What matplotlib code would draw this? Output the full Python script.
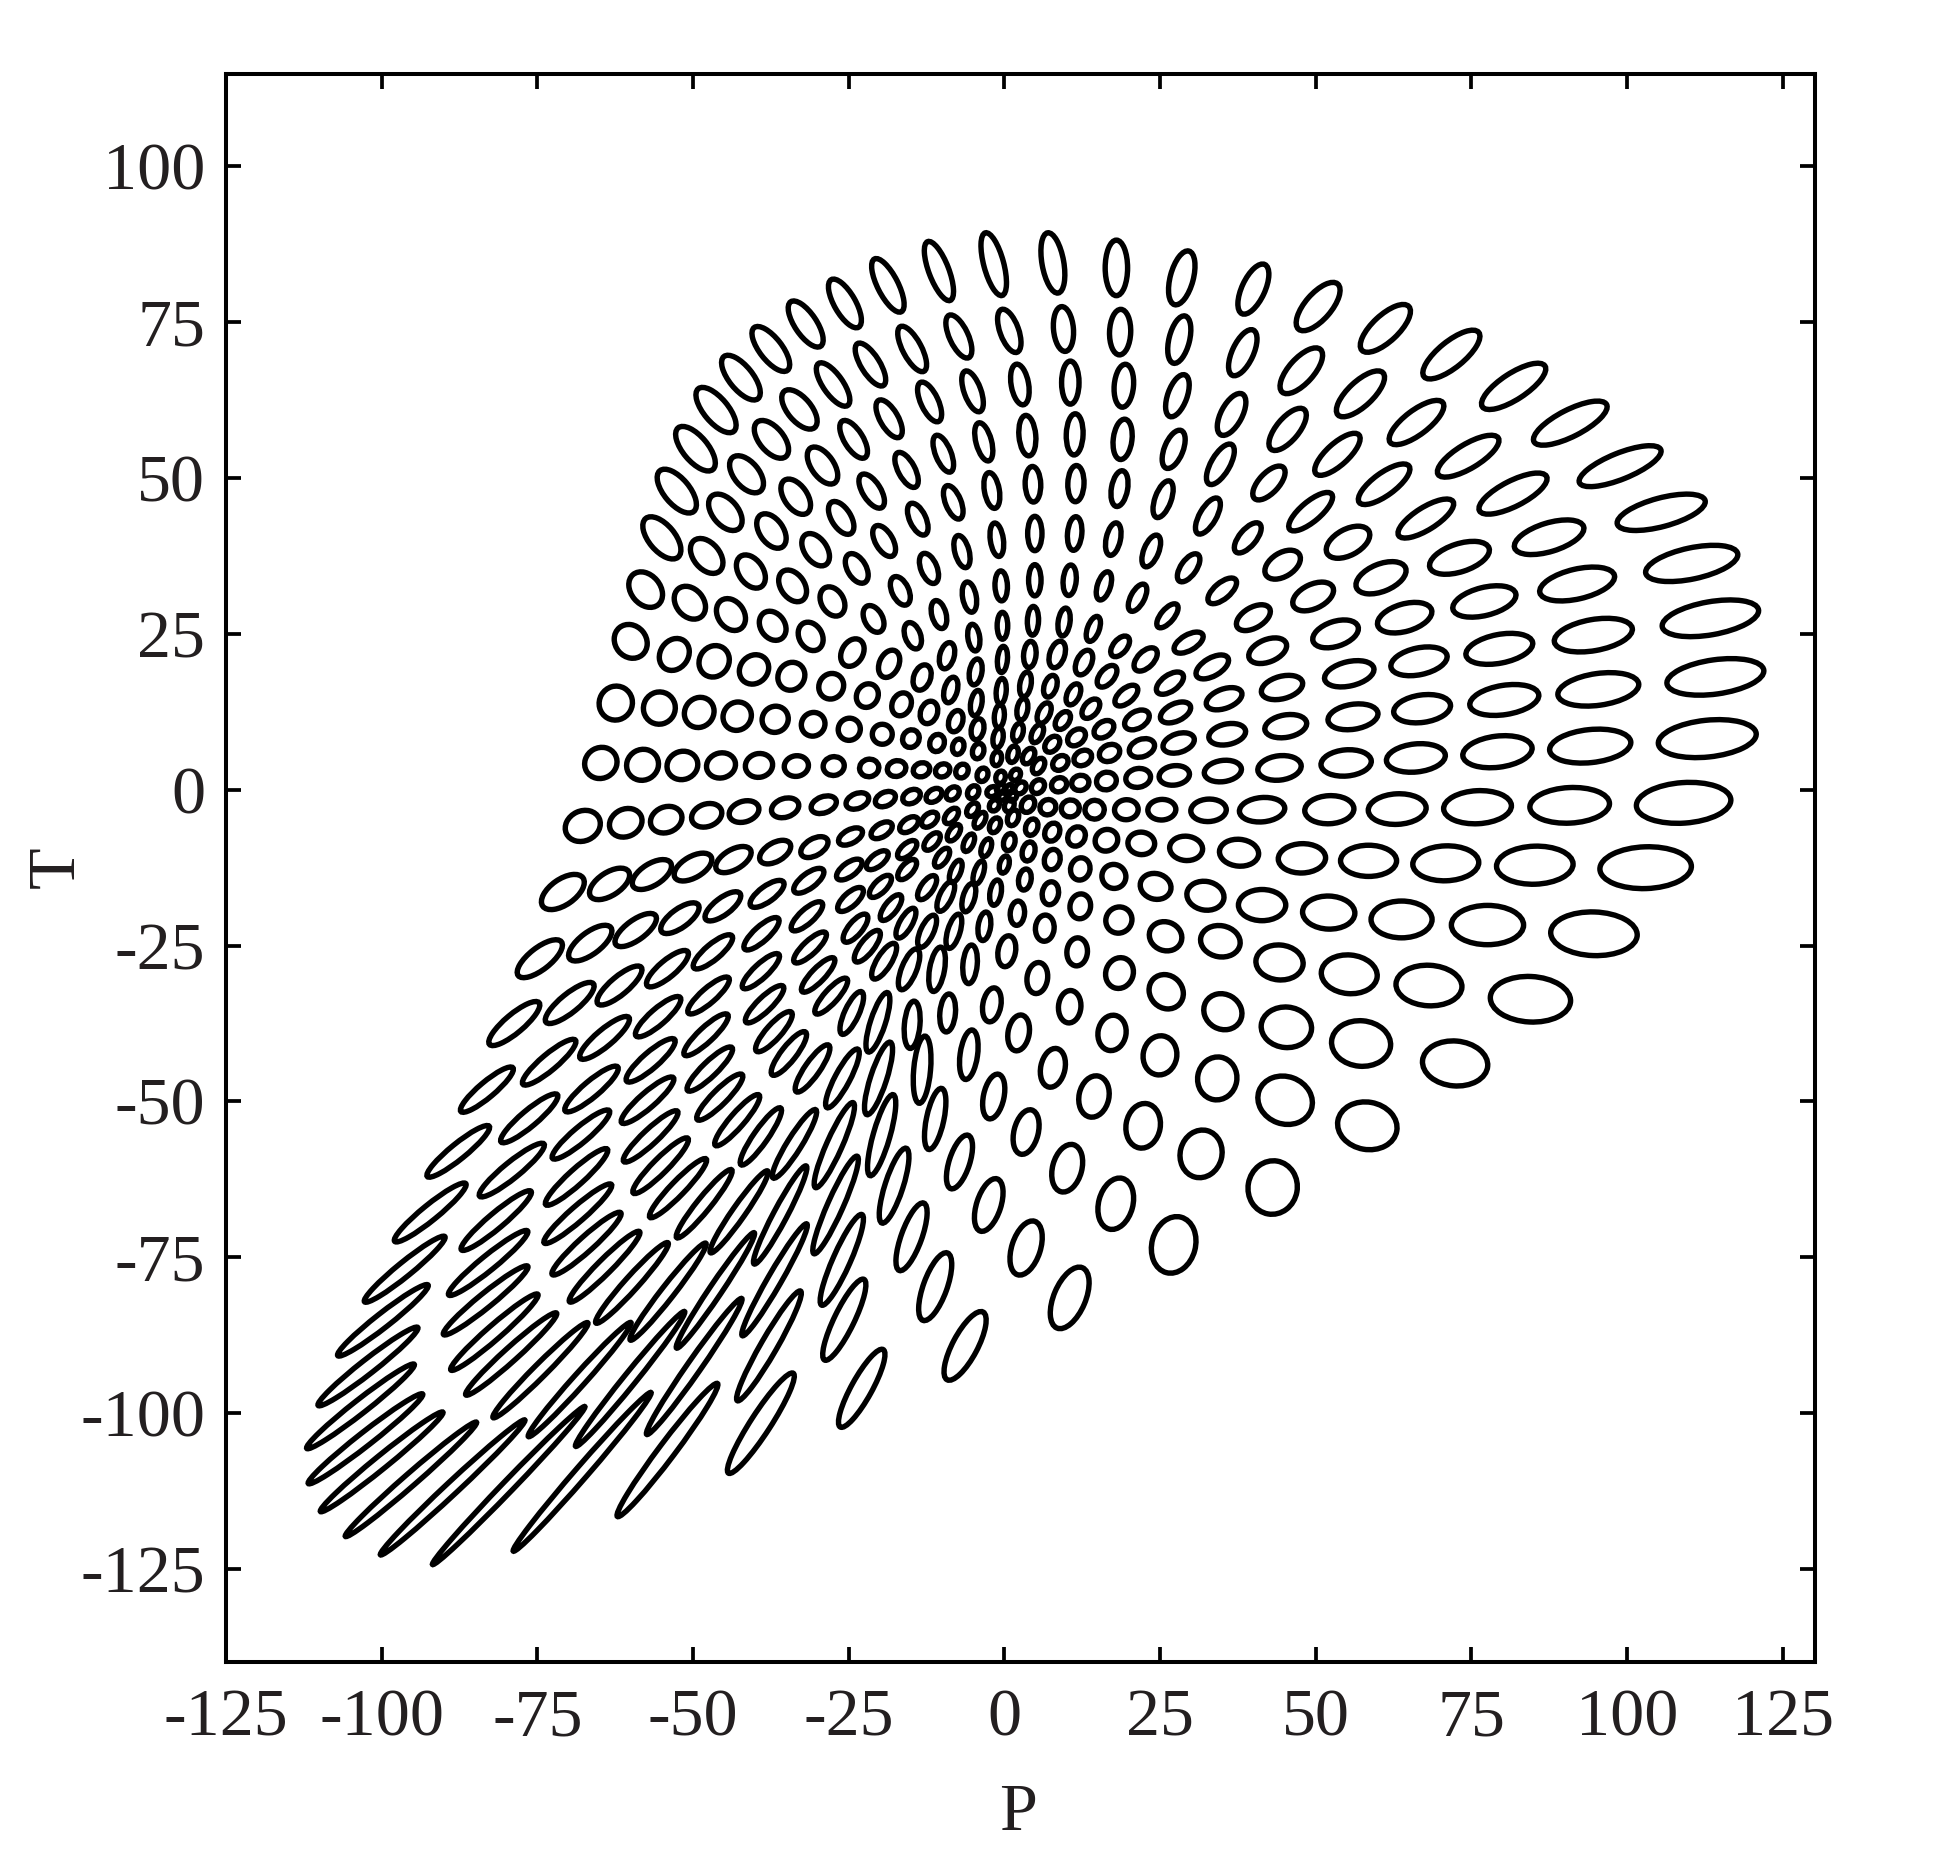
import matplotlib
matplotlib.use("Agg")
import matplotlib.pyplot as plt
from matplotlib.patches import Ellipse

# Each row: P centre, T centre, long axis, short axis, tilt of long axis (degrees)
outer_lower_left = [
(-83.1,-48.1,10.9,2.5,40),(-87.7,-58.0,12.8,2.5,39),(-92.2,-67.8,14.7,2.5,39),(-96.3,-76.9,16.6,2.3,39),
(-99.8,-85.1,18.4,2.3,38),(-102.2,-92.5,20.3,2.3,38),(-103.4,-98.9,21.9,2.2,38),(-102.6,-104.1,23.3,2.2,38),
(-100.0,-107.8,25.3,2.1,39),(-95.3,-110.6,27.9,2.0,41),(-88.6,-111.9,31.7,2.0,43),(-79.6,-111.6,35.2,1.8,46),
(-67.8,-109.4,33.7,2.0,49),(-54.1,-105.9,26.7,2.6,53),(-39.1,-101.6,19.1,3.2,57),(-22.9,-96.0,14.2,3.3,61),
(-6.3,-89.2,12.3,4.0,62),(10.5,-81.5,10.5,5.1,67),(27.2,-73.0,9.2,7.0,75),(43.1,-63.8,8.6,7.9,80),
(58.3,-53.9,9.6,7.6,-10),(72.4,-43.9,10.5,7.2,-5),
]
outer_right = [
(84.5,-33.6,12.9,7.3,-3),(94.7,-23.1,13.9,7.0,-2),(103.0,-12.5,14.7,6.7,2),(109.1,-2.1,15.2,6.5,4),
(112.9,8.2,15.8,5.9,6),(114.2,18.1,15.7,5.5,8),(113.4,27.5,15.7,5.3,10),(110.4,36.3,15.1,5.0,12),
(105.5,44.5,14.6,4.6,15),(98.9,51.9,14.1,4.2,22),(90.9,58.8,13.1,4.3,27),(81.8,64.7,12.0,4.2,33),
(71.8,69.8,11.3,4.2,39),(61.2,74.0,10.3,4.2,43),(50.4,77.5,9.6,4.2,49),
]
outer_top = [
(40.0,80.3,8.7,3.7,65),(28.5,82.1,8.9,3.7,75),(18.0,83.7,8.9,3.6,90),(7.8,84.5,9.8,3.5,100),
(-1.7,84.3,10.4,3.2,105),(-10.5,83.2,10.1,3.2,111),(-18.7,80.9,9.5,3.3,117),(-25.6,78.0,8.8,3.4,120),
(-31.9,74.7,8.6,3.5,124),(-37.5,70.7,8.7,3.6,128),(-42.3,66.1,8.7,3.8,129),(-46.3,60.9,8.9,3.9,130),
(-49.6,54.7,8.7,4.0,130),(-52.6,47.9,8.5,4.1,130),(-55.0,40.4,8.1,4.2,130),(-57.6,32.1,6.3,4.7,130),
(-60.0,23.8,5.7,5.0,130),
]
right_band_a = [
(68.2,-31.4,10.6,6.5,-3),(77.6,-21.7,11.6,6.3,0),(85.2,-12.1,12.3,6.1,2),(90.8,-2.5,12.8,5.7,3),
(94.1,7.0,13.1,5.3,6),(95.4,16.1,13.1,5.1,8),(94.6,24.8,12.7,5.0,10),(92.0,33.0,12.3,4.8,13),
(87.5,40.5,11.6,4.6,17),(81.7,47.5,12.1,4.1,27),(74.5,53.5,11.3,3.9,31),(66.2,58.9,10.6,3.9,37),
(57.2,63.5,9.9,4.0,43),(47.7,67.2,9.2,4.0,48),(67.7,43.5,10.3,3.6,32),(61.0,49.0,9.9,3.6,36),
(53.5,53.8,9.3,3.5,42),(45.5,57.8,8.3,3.6,50),(49.2,44.6,8.8,3.2,40),
]
right_band_b = [
(57.3,-40.7,9.5,7.3,-5),(45.3,-38.1,8.1,6.5,-5),(55.4,-29.6,9.0,6.2,-5),(44.2,-27.7,7.6,5.6,-5),
(63.8,-20.8,9.8,5.9,0),(52.1,-19.7,8.4,5.3,-2),(41.4,-18.5,7.6,5.0,0),(70.9,-11.8,10.6,5.6,2),
(58.5,-11.4,9.0,5.0,0),(47.8,-11.0,7.6,4.7,2),(76.0,-2.8,10.9,5.3,3),(63.1,-3.1,9.3,4.9,3),
(52.2,-3.2,7.9,4.5,3),(41.4,-3.2,7.3,3.9,5),(79.2,6.1,11.2,5.0,7),(66.1,5.1,9.5,4.5,6),
(54.9,4.3,8.1,4.2,5),(44.2,3.5,7.0,3.9,7),(80.3,14.4,11.2,4.7,9),(67.1,13.0,9.2,4.4,8),
(56.0,11.7,8.1,4.0,9),(45.2,10.2,6.8,3.6,10),(79.5,22.6,10.9,4.6,11),(66.6,20.6,9.2,4.3,12),
(55.4,18.6,8.1,3.9,13),(44.6,16.4,6.8,3.6,15),(77.1,30.2,10.4,4.5,14),(64.3,27.6,9.0,4.4,16),
(53.2,25.0,7.6,4.0,18),(42.3,22.3,6.4,3.6,22),(73.1,37.2,10.0,4.5,18),(60.5,34.0,8.5,4.4,22),
(49.6,31.0,7.0,3.9,25),(40.0,27.6,6.0,3.3,30),(55.2,39.7,7.6,4.2,28),(44.7,36.1,6.3,3.8,32),
]
centre_right_upper = [
(29.6,23.6,5.2,2.5,30),(18.6,23.0,3.9,2.2,50),(8.5,21.7,4.4,2.4,72),(4.1,21.7,4.2,2.0,85),
(33.4,19.7,5.8,2.9,30),(22.7,20.9,4.6,2.6,45),(12.8,20.4,4.2,2.4,65),(35.3,14.6,6.0,3.1,20),
(26.6,17.1,5.0,2.6,35),(19.6,15.1,4.4,2.3,40),(16.5,18.2,4.1,2.3,50),(11.1,15.3,3.6,2.0,65),
(7.4,16.6,3.6,2.0,72),(3.4,16.9,4.0,1.8,80),(27.5,12.4,5.2,2.8,25),(21.3,11.2,4.3,2.7,30),
(13.9,13.0,3.6,2.2,50),(9.4,11.1,3.2,2.0,55),(6.4,12.3,3.5,1.9,65),(2.9,12.9,3.5,1.7,80),
(35.8,8.9,6.0,3.3,12),(28.0,7.5,5.2,3.0,18),(22.1,6.7,4.2,2.8,20),(16.0,9.7,3.5,2.4,35),
(11.6,8.4,3.2,2.3,40),(7.7,7.3,2.9,2.0,50),(5.3,9.0,3.1,1.7,65),(2.2,9.2,3.0,1.6,75),
(35.1,3.0,6.0,3.4,8),(27.3,2.3,4.9,3.1,8),(21.5,1.9,4.0,3.0,10),(16.4,1.4,3.2,2.8,15),
(16.9,5.9,3.4,2.6,25),(12.6,5.1,3.0,2.3,30),(9.0,4.3,2.7,2.1,40),(5.5,3.8,2.7,1.7,60),
(3.9,5.4,2.7,1.7,60),(1.4,5.7,2.7,1.6,75),(12.2,1.1,2.8,2.4,15),(8.8,0.8,2.5,2.2,30),
(5.4,0.5,2.4,1.9,50),(2.6,0.3,2.1,1.6,50),(1.8,2.4,1.9,1.5,60),
]
centre_right_lower = [
(32.8,-3.3,5.7,3.6,3),(25.3,-3.2,4.5,3.3,3),(19.6,-3.2,3.8,3.2,5),(14.5,-3.2,3.1,3.0,10),
(10.6,-3.0,2.9,2.7,15),(7.0,-2.8,2.6,2.4,30),(3.8,-2.4,2.6,2.0,60),(1.4,-4.5,2.6,1.7,70),
(4.4,-6.0,2.7,1.9,70),(7.7,-6.8,3.0,2.3,65),(11.6,-7.5,3.2,2.7,60),(16.4,-8.1,3.7,3.4,30),
(22.0,-8.6,4.3,3.6,-5),(29.2,-9.4,5.3,3.9,-5),(37.7,-10.1,6.3,4.3,-5),(0.8,-8.4,2.8,1.8,75),
(3.9,-9.9,3.1,2.0,75),(7.7,-11.2,3.3,2.5,75),(12.2,-12.7,3.6,3.1,75),(17.6,-13.9,3.9,3.8,-45),
(24.3,-15.5,5.0,4.1,-15),(32.3,-17.0,6.0,4.6,-10),(0.0,-12.0,2.8,1.5,75),(3.3,-14.4,3.4,2.0,80),
(7.4,-16.6,3.7,2.6,80),(12.2,-18.7,4.0,3.3,80),(18.4,-20.9,4.3,4.1,45),(25.9,-23.5,5.3,4.6,-20),
(34.7,-24.3,6.4,5.0,-10),(2.1,-19.8,3.9,2.3,85),(6.5,-22.2,4.2,3.0,85),(11.7,-26.0,4.5,3.3,85),
(18.5,-29.4,5.0,4.4,70),(26.0,-32.4,5.8,5.2,-45),(10.5,-34.8,5.2,3.6,85),
]
lower_middle = [
(31.6,-58.4,7.7,6.7,75),(17.9,-66.4,8.4,5.5,75),(3.5,-73.5,9.0,4.6,72),(-11.1,-79.7,11.5,3.8,70),
(-25.7,-85.0,14.4,3.2,64),(-37.8,-89.2,20.3,2.6,60),(45.1,-49.8,8.9,7.6,-20),(35.1,-35.6,6.3,5.6,-30),
(34.2,-46.3,6.9,6.3,80),(22.3,-53.9,7.2,5.5,80),(25.0,-42.6,6.3,5.4,80),(17.3,-39.0,5.7,4.5,80),
(14.4,-49.2,6.7,4.8,78),(10.1,-60.7,7.8,4.7,75),(7.8,-44.6,6.3,3.9,78),(3.5,-54.9,7.3,3.9,76),
(-2.5,-66.6,8.8,3.9,72),(2.3,-39.0,5.8,3.4,80),(-1.7,-49.2,7.3,3.3,78),(-7.2,-59.7,9.0,3.3,72),
(-14.9,-71.7,11.5,3.3,70),(-2.0,-34.5,5.5,2.9,80),(-5.7,-42.5,8.0,2.8,82),(-11.1,-52.8,10.0,2.8,78),
(-17.7,-63.5,12.6,2.9,72),(-26.1,-75.4,15.9,2.8,66),(-36.9,-78.6,20.7,2.2,60),(-9.1,-35.8,6.1,2.5,85),
(-13.2,-44.9,10.8,2.7,85),(-19.7,-55.4,13.5,2.7,74),(-27.1,-66.6,17.1,2.5,66),(-36.0,-68.2,17.8,2.2,62),
(-14.8,-37.7,7.6,2.5,85),(-20.2,-46.3,12.2,2.6,72),(-27.3,-57.0,14.9,2.5,66),(-33.7,-56.8,12.9,2.3,58),
(-39.1,-55.6,11.1,2.3,55),(-20.3,-37.3,10.0,2.4,72),(-26.0,-46.3,10.6,2.4,62),(-30.8,-44.7,9.1,2.4,55),
(-34.6,-42.3,8.7,2.4,52),(-37.0,-38.8,8.4,2.4,48),(-24.5,-35.8,7.5,2.3,65),
]
lower_left_bands = [
(-76.3,-52.7,11.8,2.6,40),(-79.1,-61.0,13.3,2.6,39),(-81.6,-69.1,14.6,2.5,40),(-82.9,-75.9,16.3,2.4,39),
(-83.3,-81.9,17.4,2.3,39),(-81.9,-87.0,18.5,2.3,41),(-79.2,-90.5,19.6,2.2,42),(-74.5,-93.1,21.5,2.1,45),
(-68.2,-94.6,24.6,2.0,48),(-60.1,-94.5,27.8,2.0,51),(-49.8,-92.5,26.6,2.2,55),
(-66.3,-48.0,11.0,2.6,40),(-68.0,-55.3,11.9,2.5,40),(-68.7,-62.1,13.3,2.5,42),(-68.5,-68.0,14.3,2.4,41),
(-67.1,-72.8,14.8,2.4,42),(-64.2,-76.5,15.9,2.3,45),(-59.8,-79.1,17.3,2.2,48),(-54.0,-80.5,19.7,2.1,52),
(-46.4,-80.3,22.3,2.0,56),
(-57.3,-49.8,11.0,2.5,41),(-56.8,-55.6,11.8,2.4,43),(-55.2,-60.3,12.4,2.4,45),(-52.4,-63.9,13.0,2.3,46),
(-48.2,-66.4,14.0,2.2,51),(-42.6,-67.7,16.0,2.1,55),(-45.7,-49.3,10.2,2.4,45),(-42.9,-53.0,10.7,2.3,49),
]
left_row_a = [
(-70.9,-16.4,7.9,4.1,35),(-63.4,-15.1,7.3,3.7,33),(-56.6,-13.6,7.1,3.5,32),(-50.0,-12.4,6.7,3.4,30),
(-43.5,-11.2,6.3,3.2,30),(-36.8,-10.0,5.5,3.0,30),(-30.5,-9.2,4.8,2.7,30),(-24.7,-7.5,4.2,2.2,28),
(-19.7,-6.5,3.8,2.1,32),(-15.3,-5.6,3.4,2.0,35),(-12.0,-4.8,3.0,1.9,40),(-8.5,-4.2,2.9,1.7,50),
(-5.1,-3.2,2.4,1.6,55),
]
left_row_b = [
(-74.6,-27.1,8.8,3.5,38),(-66.5,-24.6,8.3,3.5,37),(-59.2,-22.5,7.9,3.2,36),(-52.1,-20.6,7.3,3.0,36),
(-45.2,-18.7,6.9,2.7,37),(-38.1,-16.7,6.5,2.5,36),(-31.4,-14.6,5.8,2.4,37),(-24.9,-12.8,4.8,2.2,36),
(-20.4,-11.3,4.2,2.0,38),(-15.6,-9.6,3.8,1.9,42),(-11.6,-8.3,3.4,1.8,48),(-8.1,-6.9,3.0,1.6,55),
(-3.9,-4.9,2.8,1.5,60),
]
left_row_c = [
(-78.7,-37.5,10.4,3.0,40),(-69.8,-34.2,9.8,3.0,39),(-61.8,-31.4,9.1,2.9,40),(-54.1,-28.7,8.5,2.7,40),
(-46.8,-26.0,8.0,2.5,40),(-39.0,-23.1,7.3,2.4,42),(-31.7,-20.3,6.5,2.3,42),(-24.7,-17.6,5.2,2.2,42),
(-19.9,-15.5,4.6,2.0,45),(-15.6,-12.8,4.0,1.9,48),(-10.0,-10.9,3.5,1.7,55),(-5.7,-8.5,3.0,1.5,65),
(-2.9,-9.3,3.0,1.5,70),
]
left_row_d = [
(-73.1,-43.7,11.0,2.6,40),(-64.2,-39.8,10.2,2.7,40),(-55.6,-36.4,9.4,2.6,41),(-47.5,-33.0,8.6,2.4,41),
(-39.1,-29.1,7.9,2.3,43),(-31.2,-25.3,6.9,2.2,43),(-56.8,-43.4,10.2,2.6,41),(-47.9,-39.3,9.5,2.4,43),
(-38.5,-34.4,8.3,2.3,44),(-29.9,-29.7,7.4,2.2,46),(-47.3,-44.8,9.9,2.4,44),(-27.8,-33.1,7.5,2.2,48),
]
inner_lower = [
(-12.4,-15.7,4.5,2.0,55),(-7.8,-13.1,3.8,1.6,68),(-4.1,-13.3,3.9,1.5,72),(-1.4,-16.5,4.1,1.8,80),
(-5.7,-17.3,4.7,1.9,74),(-9.4,-17.1,5.2,2.0,65),(-3.2,-21.9,4.6,2.0,82),(-8.1,-22.7,5.7,2.0,73),
(-12.4,-22.7,5.6,2.1,65),(-15.8,-21.4,5.4,2.0,60),(-18.2,-18.9,5.0,2.0,52),(-23.9,-22.2,5.6,2.2,50),
(-22.0,-25.1,6.2,2.2,52),(-19.3,-27.5,6.6,2.3,58),(-15.3,-28.8,7.0,2.4,68),(-10.8,-28.8,7.2,2.4,80),
(-5.5,-28.0,6.2,2.3,85),(0.4,-25.9,5.0,2.8,80),(5.3,-30.2,5.0,3.3,82),
]
left_row_e = [
(-62.4,13.9,5.5,5.3,60),(-55.4,13.1,5.2,5.1,60),(-49.0,12.4,5.0,4.6,50),(-42.9,11.8,4.7,4.4,45),
(-36.8,11.3,4.3,4.1,45),(-30.7,10.5,3.9,3.7,45),(-24.9,9.7,3.6,3.5,45),(-19.6,8.9,3.2,3.2,60),
(-15.0,8.2,2.9,2.6,60),(-10.8,7.5,2.8,2.3,70),(-7.4,6.9,2.5,1.8,75),(-4.2,6.2,2.5,1.8,75),
(-1.2,5.0,2.3,1.5,80),
]
left_row_f = [
(-64.8,4.3,5.3,4.9,30),(-58.1,4.0,5.2,4.9,30),(-51.7,3.9,5.0,4.5,20),(-45.5,3.9,4.7,4.0,15),
(-39.4,3.9,4.4,3.8,12),(-33.4,3.8,3.9,3.3,10),(-27.4,3.8,3.4,3.0,10),(-21.7,3.5,3.1,2.8,12),
(-17.3,3.4,3.0,2.5,15),(-13.3,3.2,2.7,2.2,20),(-9.9,3.1,2.4,2.0,30),(-6.8,3.0,2.3,1.9,60),
(-3.5,2.4,2.2,1.7,70),
]
left_row_g = [
(-67.7,-5.8,5.8,4.8,25),(-60.8,-5.3,5.4,4.4,25),(-54.3,-4.8,5.2,4.1,22),(-47.8,-4.1,5.0,3.6,20),
(-41.8,-3.5,4.9,3.3,18),(-35.2,-2.9,4.5,3.0,18),(-29.0,-2.4,4.2,2.6,20),(-23.6,-1.8,3.8,2.4,22),
(-19.1,-1.5,3.4,2.2,25),(-14.9,-1.1,3.0,2.1,28),(-11.3,-0.9,2.8,1.9,35),(-8.3,-0.6,2.4,1.8,45),
(-5.0,-0.4,2.2,1.7,60),
]
upper_left_rows = [
(-53.0,21.7,5.4,4.5,55),(-46.6,20.6,5.2,4.7,55),(-40.2,19.3,5.0,4.4,45),(-34.2,18.2,4.6,4.2,55),
(-27.8,16.6,4.2,3.9,55),(-22.0,15.1,3.9,3.4,60),(-16.5,13.7,3.8,3.0,65),(-12.1,12.4,3.7,2.7,70),
(-7.8,11.0,3.5,2.2,72),(-4.3,9.7,3.4,2.0,78),(-1.0,8.3,3.2,1.6,80),
(-24.4,22.0,4.7,3.4,60),(-18.5,20.2,4.6,3.1,65),(-13.2,18.0,4.2,2.7,70),
(-8.6,16.0,4.2,2.1,75),(-4.5,13.9,4.1,1.8,80),(-0.8,11.8,3.7,1.6,85),(-9.2,21.5,4.3,2.3,75),
(-4.6,18.9,4.2,2.0,80),(-0.5,15.8,4.1,1.6,85),(-0.3,20.9,4.2,1.6,85),
(-32.9,61.0,7.6,3.8,130),(-37.4,56.2,7.2,3.9,130),(-41.4,50.6,7.0,4.0,130),(-44.8,44.5,6.8,4.1,130),
(-47.8,37.5,6.4,4.2,130),(-50.5,30.0,5.8,4.4,130),
(-29.2,52.0,6.8,3.6,125),(-33.5,47.0,6.4,3.7,125),(-37.4,41.5,6.2,3.8,125),(-40.7,35.0,5.9,3.9,125),
(-43.9,28.1,5.5,4.2,125),(-30.3,38.5,5.8,3.6,125),(-34.0,32.7,5.6,3.8,125),(-37.2,26.3,5.0,3.9,125),
(-27.6,30.2,5.0,3.6,120),(-31.1,24.6,4.8,3.7,120),
]
top_ring_2 = [
(38.3,70.1,8.0,3.4,65),(28.1,72.2,7.8,3.3,76),(18.6,73.4,7.3,3.4,88),(9.5,73.9,7.2,3.2,95),
(0.8,73.6,7.3,3.0,110),(-7.3,72.7,7.5,3.0,115),(-14.8,70.7,8.1,3.0,118),(-21.5,68.2,7.9,3.0,122),
(-27.5,65.0,8.2,3.2,125),
]
top_ring_3 = [
(36.5,60.2,7.4,3.4,62),(27.8,63.2,7.1,3.1,70),(19.2,64.8,6.9,3.1,85),(10.6,65.3,6.9,2.8,90),
(2.5,65.0,6.6,2.8,100),(-5.1,63.9,6.9,2.7,110),(-12.0,62.2,6.9,2.8,115),(-18.5,59.5,6.8,2.9,120),
(-24.2,56.2,6.9,3.0,122),
]
top_ring_4 = [
(34.7,52.2,7.3,3.0,60),(27.2,54.6,6.5,3.0,68),(19.0,56.2,6.5,3.0,83),(11.3,57.0,6.6,2.7,88),
(3.7,56.8,6.5,2.7,95),(-3.3,55.8,6.3,2.5,105),(-9.8,53.9,6.3,2.5,112),(-15.7,51.3,6.2,2.7,118),
(-21.3,47.9,6.2,2.9,122),(-26.2,43.6,5.9,3.1,122),
]
top_ring_5 = [
(42.5,49.2,6.8,3.2,47),(32.7,43.9,6.5,2.7,60),(25.5,46.6,6.2,2.6,70),(18.5,48.3,5.8,2.6,80),
(11.5,49.1,5.8,2.6,88),(4.6,49.0,5.7,2.5,92),(-2.0,48.0,5.8,2.4,100),(-8.2,46.1,5.7,2.5,112),
(-13.9,43.4,5.5,2.6,115),(-19.3,39.9,5.5,2.8,120),(-23.7,35.5,5.2,3.0,120),
]
top_ring_6 = [
(39.1,40.4,5.9,2.7,50),(29.6,35.6,5.2,2.5,55),(23.6,38.3,5.4,2.4,68),(17.5,40.2,5.3,2.3,78),
(11.3,41.1,5.4,2.3,85),(4.9,41.1,5.5,2.3,90),(-1.2,40.1,5.4,2.1,98),(-6.8,38.2,5.3,2.3,105),
(-12.1,35.5,5.1,2.6,112),(-16.7,31.9,4.9,2.7,115),(-21.0,27.4,4.6,2.9,118),
]
top_ring_7 = [
(35.0,31.9,5.6,2.6,40),(21.4,30.8,4.8,2.2,62),(16.0,32.7,4.7,2.1,72),(10.5,33.6,4.9,2.1,85),
(4.9,33.6,5.0,2.0,90),(-0.5,32.7,4.8,2.0,92),(-5.6,30.9,4.9,2.2,100),(-10.5,28.1,4.6,2.3,105),
(-14.7,24.7,4.4,2.5,110),(26.2,27.9,4.7,2.1,50),(14.3,25.8,4.2,1.9,70),(9.6,26.9,4.5,1.9,82),
(4.6,27.1,4.6,1.8,88),(-0.3,26.3,4.3,1.7,90),(-4.9,24.4,4.3,1.9,98),
]
centre_cluster = [
(-0.6,2.0,2.0,1.5,75),(-1.9,-0.3,1.9,1.5,30),(-0.6,0.2,1.5,1.1,45),(0.8,0.2,1.4,1.0,50),
(-0.3,-1.1,1.4,1.1,30),(1.3,-1.1,1.6,1.2,50),(-1.6,-2.5,1.9,1.5,60),(0.8,-2.5,2.1,1.5,70),
(-1.5,-5.7,2.5,1.6,65),
]
regions = [outer_lower_left, outer_right, outer_top, right_band_a, right_band_b,
           centre_right_upper, centre_right_lower, lower_middle, lower_left_bands,
           left_row_a, left_row_b, left_row_c, left_row_d, inner_lower,
           left_row_e, left_row_f, left_row_g, upper_left_rows,
           top_ring_2, top_ring_3, top_ring_4, top_ring_5, top_ring_6, top_ring_7,
           centre_cluster]

tick_values = [-125, -100, -75, -50, -25, 0, 25, 50, 75, 100, 125]
y_tick_values = [100, 75, 50, 25, 0, -25, -50, -75, -100, -125]
x_labels = ["-125", "-100", "-75", "-50", "-25", "0", "25", "50", "75", "100", "125"]
y_labels = ["100", "75", "50", "25", "0", "-25", "-50", "-75", "-100", "-125"]

plt.rcParams['font.family'] = ['Liberation Serif', 'DejaVu Serif']
W, H = 1945, 1868
fig = plt.figure(figsize=(W / 100, H / 100), dpi=100, facecolor='white')
ax = fig.add_axes([226 / W, 1 - 1662 / H, (1815 - 226) / W, (1662 - 74) / H])
ax.set_xlim(-124.7, 130.2)
ax.set_ylim(-139.9, 114.8)

for region in regions:
    for p, t, long_axis, short_axis, tilt in region:
        ax.add_patch(Ellipse((p, t), long_axis, short_axis, angle=tilt,
                             fill=False, edgecolor='black', linewidth=3.9))

text_colour = '#231f20'
ax.set_xticks(tick_values)
ax.set_xticklabels(x_labels)
ax.set_yticks(y_tick_values)
ax.set_yticklabels(y_labels)
ax.tick_params(axis='both', direction='in', top=True, right=True, length=11, width=2.7,
               labelsize=49, labelcolor=text_colour)
ax.tick_params(axis='x', pad=19)
ax.tick_params(axis='y', pad=15)
for s in ax.spines.values():
    s.set_linewidth(2.9)

ax.set_xlabel('P', fontsize=49, color=text_colour, ha='center', va='center')
ax.xaxis.set_label_coords(0.4985, -0.0953)
ax.set_ylabel('T', fontsize=49, color=text_colour, ha='center', va='center')
ax.yaxis.set_label_coords(-0.1064, 0.5004)

fig.savefig('out.png', dpi=100)
